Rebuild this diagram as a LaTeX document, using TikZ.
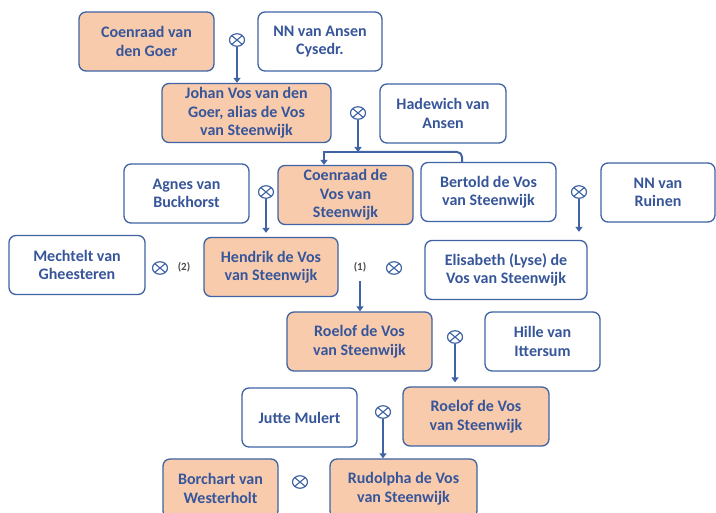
\documentclass[tikz,border=0pt]{standalone}
\usepackage{fontspec}
\setmainfont{Carlito}
\usepackage{xcolor}
\usepackage{tikz}
\usetikzlibrary{arrows.meta,positioning,shapes.geometric}

\definecolor{famblue}{HTML}{3F63A3}
\definecolor{famtext}{HTML}{37569A}
\definecolor{famorange}{HTML}{F8CBAD}

\begin{document}
\begin{tikzpicture}[
      x=1pt, y=-1pt,
      person/.style={draw=famblue, line width=1.3pt, rounded corners=7pt, minimum height=59pt, align=center,
        text=famtext, font=\fontsize{16}{18.5}\selectfont\bfseries, fill=white},
      kin/.style={person, fill=famorange},
      wed/.style={ellipse, draw=famblue, line width=1.2pt, minimum width=15pt, minimum height=12.5pt, inner sep=0pt,
        path picture={\draw[famblue, line width=1.1pt]
          (path picture bounding box.north east) -- (path picture bounding box.south west)
          (path picture bounding box.north west) -- (path picture bounding box.south east);}},
      arr/.style={-{Triangle[width=7pt,length=5pt]}, draw=famblue, line width=2.4pt},
      line/.style={draw=famblue, line width=2pt},
      note/.style={font=\fontsize{11}{13}\selectfont\bfseries, text=black!70},
    ]
    \useasboundingbox (0,0) rectangle (716,513);
    % generation 1
    \node[kin, minimum width=135pt] (goer) at (146.5,41.5) {Coenraad van\\den Goer};
    \node[person, minimum width=124pt] (ansen) at (320,41.5) {NN van Ansen\\Cysedr.};
    \node[wed] (m1) at (237,40) {};
    % generation 2
    \node[kin, minimum width=169pt] (johan) at (246.5,113) {Johan Vos van den\\Goer, alias de Vos\\van Steenwijk};
    \node[person, minimum width=126pt] (hadewich) at (443,113.5) {Hadewich van\\Ansen};
    \node[wed] (m2) at (358,113) {};
    \coordinate (bar) at (358,152);
    % generation 3
    \node[person, minimum width=125pt] (agnes) at (186.5,193.5) {Agnes van\\Buckhorst};
    \node[kin, minimum width=135pt] (coenraad) at (345.5,195) {Coenraad de\\Vos van\\Steenwijk};
    \node[person, minimum width=135pt] (bertold) at (488.5,192) {Bertold de Vos\\van Steenwijk};
    \node[person, minimum width=114pt] (ruinen) at (658,192.5) {NN van\\Ruinen};
    \node[wed] (m3) at (266,192) {};
    \node[wed] (m4) at (579,192) {};
    % generation 4
    \node[person, minimum width=136pt] (mechtelt) at (77,265) {Mechtelt van\\Gheesteren};
    \node[kin, minimum width=134pt] (hendrik) at (271,267) {Hendrik de Vos\\van Steenwijk};
    \node[person, minimum width=162pt] (elisabeth) at (506,270) {Elisabeth (Lyse) de\\Vos van Steenwijk};
    \node[wed] (m5) at (160,268) {};
    \node[note] (n2) at (184,267) {(2)};
    \node[note] (n1) at (360,267) {(1)};
    \node[wed] (m6) at (394,268) {};
    % generation 5
    \node[kin, minimum width=145pt] (roelof) at (359.5,341.5) {Roelof de Vos\\van Steenwijk};
    \node[person, minimum width=115pt] (hille) at (542.5,341.5) {Hille van\\Ittersum};
    \node[wed] (m7) at (455,337) {};
    % generation 6
    \node[person, minimum width=115pt] (jutte) at (299.5,417.5) {Jutte Mulert};
    \node[kin, minimum width=146pt] (roelofjr) at (476,416.5) {Roelof de Vos\\van Steenwijk};
    \node[wed] (m8) at (383,412) {};
    % generation 7
    \node[kin, minimum width=115pt] (borchart) at (220.5,488.5) {Borchart van\\Westerholt};
    \node[kin, minimum width=147pt] (rudolpha) at (403.5,488.5) {Rudolpha de Vos\\van Steenwijk};
    \node[wed] (m9) at (300,482) {};
    % descent
    \draw[arr] (m1) -- (m1 |- johan.north);
    \draw[arr] (m2) -- (bar);
    \draw[line, rounded corners=5pt] (bar) -| ([xshift=-26.5pt]bertold.north);
    \draw[arr] (bar) -| ([xshift=-21.5pt]coenraad.north);
    \draw[arr, shorten >=4pt] (m3) -- (m3 |- hendrik.north);
    \draw[arr, shorten >=8pt] (m4) -- (m4 |- elisabeth.north);
    \draw[arr, shorten <=6pt] (n1) -- (n1 |- roelof.north);
    \draw[arr, shorten >=4pt] (m7) -- (m7 |- roelofjr.north);
    \draw[arr] (m8) -- (m8 |- rudolpha.north);
  \end{tikzpicture}
\end{document}
